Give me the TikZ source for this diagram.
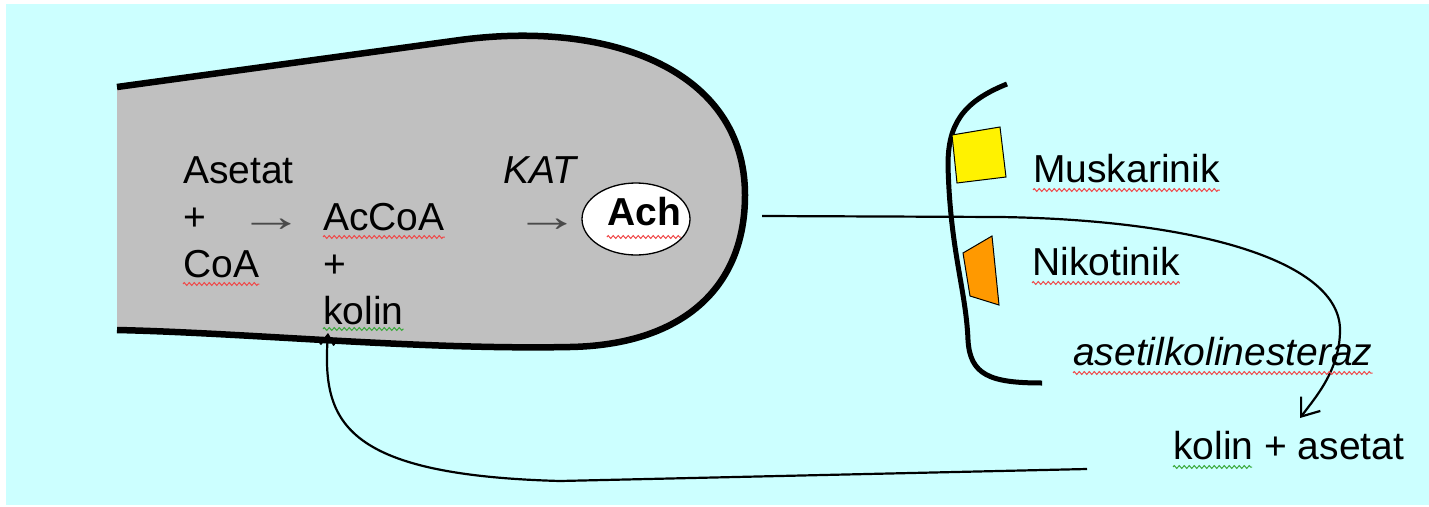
\documentclass[tikz,border=0pt]{standalone}
\usepackage{fontspec}
\setmainfont{Liberation Sans}
\usetikzlibrary{arrows.meta,decorations.pathmorphing,shapes.geometric}

\definecolor{bgcyan}{HTML}{CCFFFF}
\definecolor{cellgray}{HTML}{C0C0C0}
\definecolor{recorange}{HTML}{FF9900}
\definecolor{spellred}{HTML}{F04848}
\definecolor{spellgreen}{HTML}{3AA83A}
\definecolor{arrowgray}{HTML}{4A4A4A}

\begin{document}
\begin{tikzpicture}[x=1pt,y=-1pt,
  lbl/.style={inner sep=0pt, anchor=base west, font=\fontsize{39}{47}\selectfont},
  italbl/.style={lbl, font=\fontsize{39}{47}\selectfont\itshape},
  graylbl/.style={lbl, text=arrowgray, font=\fontsize{44}{47}\selectfont},
  squigred/.style={draw=spellred, line width=1pt, decorate,
    decoration={zigzag, segment length=5pt, amplitude=1.4pt}},
  squiggreen/.style={squigred, draw=spellgreen},
  flow/.style={line width=2.2pt, -{Straight Barb[length=16pt, width=24pt, line width=2.2pt]}},
]
\useasboundingbox (0,0) rectangle (1429,506);
\fill[white] (0,0) rectangle (1429,506);
\fill[bgcyan] (6,4) rectangle (1429,505);

% presynaptic terminal: gray body, outline open on the left
\fill[cellgray] (117,87) -- (460,40) .. controls (610,20) and (745,70) .. (745,195)
  .. controls (745,290) and (680,345) .. (570,347)
  .. controls (420,350) and (250,333) .. (117,330) -- cycle;
\draw[line width=6.5pt] (117,87) -- (460,40) .. controls (610,20) and (745,70) .. (745,195)
  .. controls (745,290) and (680,345) .. (570,347)
  .. controls (420,350) and (250,333) .. (117,330);

% synthesis reaction
\node[lbl] (asetat) at (183,183) {Asetat};
\node[lbl] (plus1) at (183,230) {+};
\node[lbl] (coa) at (183,277) {CoA};
\node[graylbl] (arr1) at (238,231) {\scalebox{1.5}[1]{→}};
\node[lbl] (accoa) at (323,230) {AcCoA};
\node[lbl] (plus2) at (323,277) {+};
\node[lbl] (kolin1) at (323,324) {kolin};
\node[italbl] (kat) at (503,183) {KAT};
\node[graylbl] (arr2) at (514,231) {\scalebox{1.5}[1]{→}};
\node[ellipse, draw, line width=1.3pt, fill=white, minimum width=108pt,
  minimum height=72pt, inner sep=0pt] (achbox) at (636,219) {};
\node[lbl, anchor=base, font=\fontsize{39}{47}\selectfont\bfseries] (ach) at (644,225) {Ach};

% postsynaptic membrane
\draw[line width=5pt] (1007,84) .. controls (962,102) and (948,125) .. (948,165)
  .. controls (950,250) and (966,290) .. (968,340)
  .. controls (970,375) and (990,383) .. (1042,383);

% receptors
\filldraw[fill=yellow, line width=1pt] (952,135) -- (1000,127) -- (1006,177) -- (957,183) -- cycle;
\filldraw[fill=recorange, line width=1pt] (963,253) -- (992,236) -- (999,305) -- (970,296) -- cycle;

\node[lbl] (musk) at (1033,182) {Muskarinik};
\node[lbl] (nikot) at (1032,275) {Nikotinik};
\node[italbl] (ache) at (1073,365) {asetilkolinesteraz};
\node[lbl] (prod) at (1173,459) {kolin + asetat};

% release, breakdown and choline reuptake
\coordinate (relstart) at (762,216);
\coordinate (prodtop) at (1300,418);
\coordinate (upstart) at (1087,469);
\coordinate (kolinin) at (328,333);
\draw[flow] (relstart) -- (1000,217) .. controls (1200,220) and (1340,262) .. (1340,330)
  .. controls (1340,370) and (1315,398) .. (prodtop);
\draw[line width=2.2pt, -{Straight Barb[length=10pt, width=14pt, line width=2.2pt]}]
  (upstart) -- (560,481) .. controls (340,475) and (322,420) .. (kolinin);

% spell-check underlines
\draw[squigred] ([yshift=-7pt]coa.base west) -- ([yshift=-7pt]coa.base east);
\draw[squigred] ([yshift=-7pt]accoa.base west) -- ([yshift=-7pt]accoa.base east);
\draw[squiggreen] ([yshift=-5pt]kolin1.base west) -- ([yshift=-5pt]kolin1.base east);
\draw[squigred] ([yshift=-12pt]ach.base west) -- ([yshift=-12pt]ach.base east);
\draw[squigred] ([yshift=-8pt]musk.base west) -- ([yshift=-8pt]musk.base east);
\draw[squigred] ([yshift=-8pt]nikot.base west) -- ([yshift=-8pt]nikot.base east);
\draw[squigred] ([yshift=-8pt]ache.base west) -- ([yshift=-8pt]ache.base east);
\draw[squiggreen] ([yshift=-8pt]prod.base west) -- ([yshift=-8pt,xshift=79pt]prod.base west);
\end{tikzpicture}
\end{document}
